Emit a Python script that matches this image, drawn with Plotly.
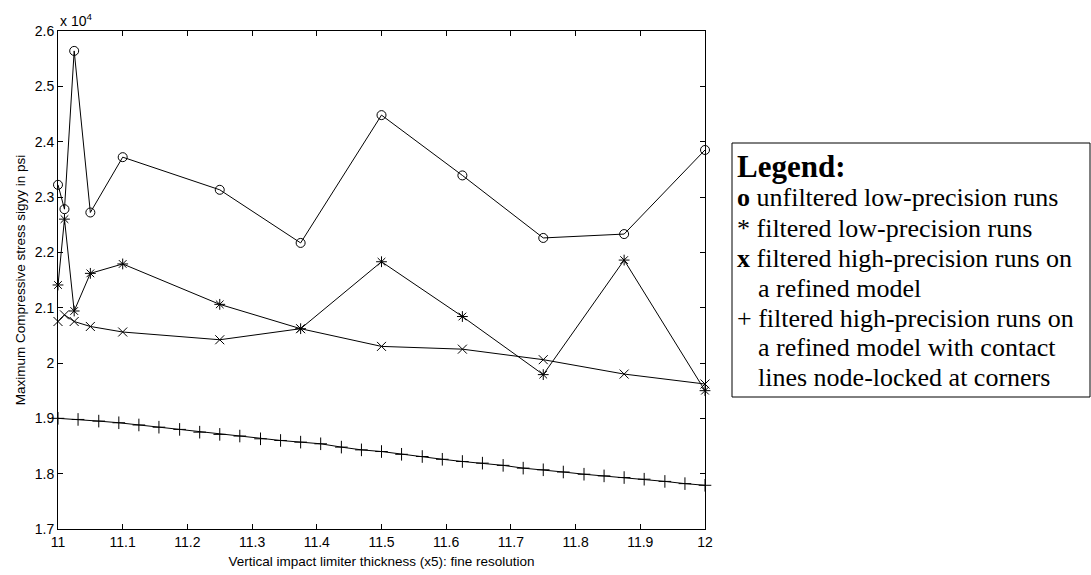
import plotly.graph_objects as go

# ---------------- data (values in units of 10^4 psi) ----------------
x_main = [11.0, 11.01, 11.025, 11.05, 11.1, 11.25, 11.375, 11.5, 11.625, 11.75, 11.875, 12.0]
unfiltered_low = [2.322, 2.278, 2.564, 2.272, 2.372, 2.313, 2.217, 2.448, 2.339, 2.226, 2.233, 2.385]
filtered_low = [2.141, 2.260, 2.094, 2.162, 2.179, 2.106, 2.062, 2.183, 2.084, 1.979, 2.186, 1.950]
filtered_high = [2.075, 2.087, 2.075, 2.066, 2.056, 2.042, 2.062, 2.030, 2.025, 2.006, 1.980, 1.962]

x_fine = [11.0, 11.031, 11.063, 11.094, 11.125, 11.156, 11.188, 11.219, 11.25, 11.281, 11.313,
          11.344, 11.375, 11.406, 11.438, 11.469, 11.5, 11.531, 11.563, 11.594, 11.625, 11.656,
          11.688, 11.719, 11.75, 11.781, 11.813, 11.844, 11.875, 11.906, 11.938, 11.969, 12.0]
filtered_high_contact = [1.900, 1.898, 1.895, 1.892, 1.888, 1.884, 1.880, 1.875, 1.871, 1.868, 1.863,
                         1.860, 1.857, 1.854, 1.848, 1.843, 1.840, 1.835, 1.831, 1.826, 1.822, 1.819,
                         1.815, 1.810, 1.807, 1.803, 1.799, 1.796, 1.793, 1.790, 1.786, 1.782, 1.779]

x_tickvals = [11.0, 11.1, 11.2, 11.3, 11.4, 11.5, 11.6, 11.7, 11.8, 11.9, 12.0]
x_ticktext = ["11", "11.1", "11.2", "11.3", "11.4", "11.5", "11.6", "11.7", "11.8", "11.9", "12"]
y_tickvals = [1.7, 1.8, 1.9, 2.0, 2.1, 2.2, 2.3, 2.4, 2.5, 2.6]
y_ticktext = ["1.7", "1.8", "1.9", "2", "2.1", "2.2", "2.3", "2.4", "2.5", "2.6"]

legend_title = "Legend:"
legend_lines = [
    ("<b>o</b> unfiltered low-precision runs", False),
    ("* filtered low-precision runs", False),
    ("<b>x</b> filtered high-precision runs on", False),
    ("a refined model", True),
    ("+ filtered high-precision runs on", False),
    ("a refined model with contact", True),
    ("lines node-locked at corners", True),
]

# ---------------- layout geometry (pixels) ----------------
W, H = 1091, 575
L, R, T, B = 58, 386, 31, 46
PW, PH = W - L - R, H - T - B


def px(xp):
    return (xp - L) / PW


def py(yp):
    return (H - B - yp) / PH


BLACK = "#000000"
SANS = "Liberation Sans, Arial, sans-serif"
SERIF = "Liberation Serif, Times New Roman, serif"

fig = go.Figure()

series = [
    (x_main, unfiltered_low, "circle-open"),
    (x_main, filtered_low, "asterisk-open"),
    (x_main, filtered_high, "x-thin-open"),
    (x_fine, filtered_high_contact, "cross-thin-open"),
]
for xs, ys, sym in series:
    fig.add_trace(go.Scatter(
        x=xs, y=ys, mode="lines+markers",
        line=dict(color=BLACK, width=1),
        marker=dict(symbol=sym, size=9, color=BLACK, line=dict(color=BLACK, width=1)),
        showlegend=False, cliponaxis=False,
    ))

axis_common = dict(
    showline=True, linecolor=BLACK, linewidth=1, mirror="ticks",
    ticks="inside", ticklen=5, tickcolor=BLACK, tickwidth=1,
    showgrid=False, zeroline=False,
    tickfont=dict(family=SANS, size=14, color=BLACK),
)

fig.update_xaxes(range=[11, 12], tickvals=x_tickvals, ticktext=x_ticktext,
                 title=dict(text="Vertical impact limiter thickness (x5): fine resolution",
                            font=dict(family=SANS, size=13.5, color=BLACK), standoff=7),
                 **axis_common)
fig.update_yaxes(range=[1.7, 2.6], tickvals=y_tickvals, ticktext=y_ticktext,
                 title=dict(text="Maximum Compressive stress sigyy in psi",
                            font=dict(family=SANS, size=13.5, color=BLACK), standoff=6),
                 **axis_common)

annotations = [
    dict(x=px(58), y=py(20), xref="paper", yref="paper", xanchor="left", yanchor="middle",
         text="x 10<sup>4</sup>", showarrow=False,
         font=dict(family=SANS, size=14, color=BLACK)),
    dict(x=px(735), y=py(166), xref="paper", yref="paper", xanchor="left", yanchor="middle",
         text="<b>" + legend_title + "</b>", showarrow=False,
         font=dict(family=SERIF, size=31, color=BLACK)),
]
line_y = [198, 228, 258, 288, 318, 348, 377]
for (txt, indent), yy in zip(legend_lines, line_y):
    annotations.append(dict(
        x=px(756 if indent else 735), y=py(yy), xref="paper", yref="paper",
        xanchor="left", yanchor="middle", text=txt, showarrow=False,
        font=dict(family=SERIF, size=26, color=BLACK)))

fig.update_layout(
    width=W, height=H,
    margin=dict(l=L, r=R, t=T, b=B, autoexpand=False),
    paper_bgcolor="white", plot_bgcolor="white",
    annotations=annotations,
    shapes=[dict(type="rect", xref="paper", yref="paper",
                 x0=px(732), x1=px(1090), y0=py(397), y1=py(143),
                 line=dict(color=BLACK, width=1), fillcolor="rgba(0,0,0,0)")],
)

fig.write_html("out.html")
